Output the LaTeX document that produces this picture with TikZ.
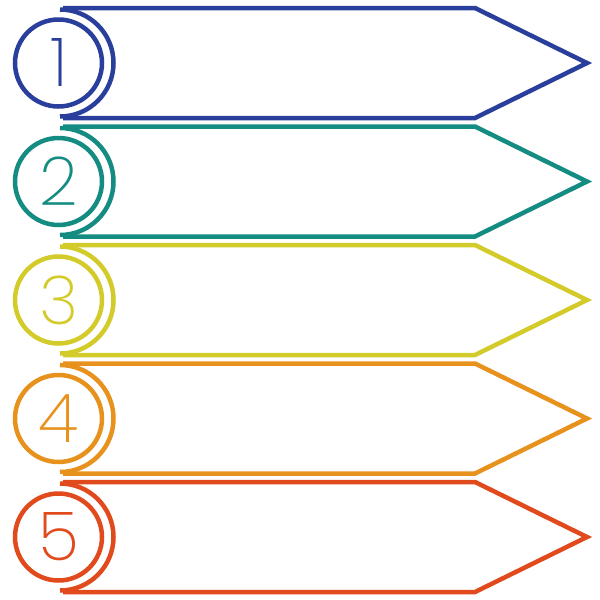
\documentclass[tikz,border=0pt]{standalone}
\usepackage{fontspec}
\newfontfamily\numfont{Poppins ExtraLight}
\definecolor{rowA}{HTML}{2A3F9B}
\definecolor{rowB}{HTML}{148C82}
\definecolor{rowC}{HTML}{D3CB2A}
\definecolor{rowD}{HTML}{E8921E}
\definecolor{rowE}{HTML}{E04A1C}
\tikzset{
    band/.style={line width=3.2pt, line join=miter},
    digit/.style={font=\numfont\fontsize{48}{48}\selectfont, inner sep=0pt}
}

\begin{document}
\begin{tikzpicture}[x=0.025cm, y=-0.025cm]
        \useasboundingbox (0,0) rectangle (600,600);
        \foreach \i/\col in {0/rowA, 1/rowB, 2/rowC, 3/rowD, 4/rowE} {
                \pgfmathsetmacro{\t}{8+118.5*\i}
                \pgfmathsetmacro{\c}{\t+55}
                \pgfmathsetmacro{\b}{\t+110}
                % arrow body
                \draw[\col, band] (63,\t) -- (475,\t) -- (587,\c) -- (475,\b) -- (63,\b);
                % outer half ring
                \draw[\col, band] (60,\c) ++(0,-53.5) arc[start angle=-90, end angle=90, radius=53.5];
                % inner ring
                \draw[\col, band] (58.5,\c) circle[radius=43.5];
                \pgfmathtruncatemacro{\n}{\i+1}
                \node[digit, text=\col] (num\n) at (59,\c) {\n};
            }
    \end{tikzpicture}
\end{document}
